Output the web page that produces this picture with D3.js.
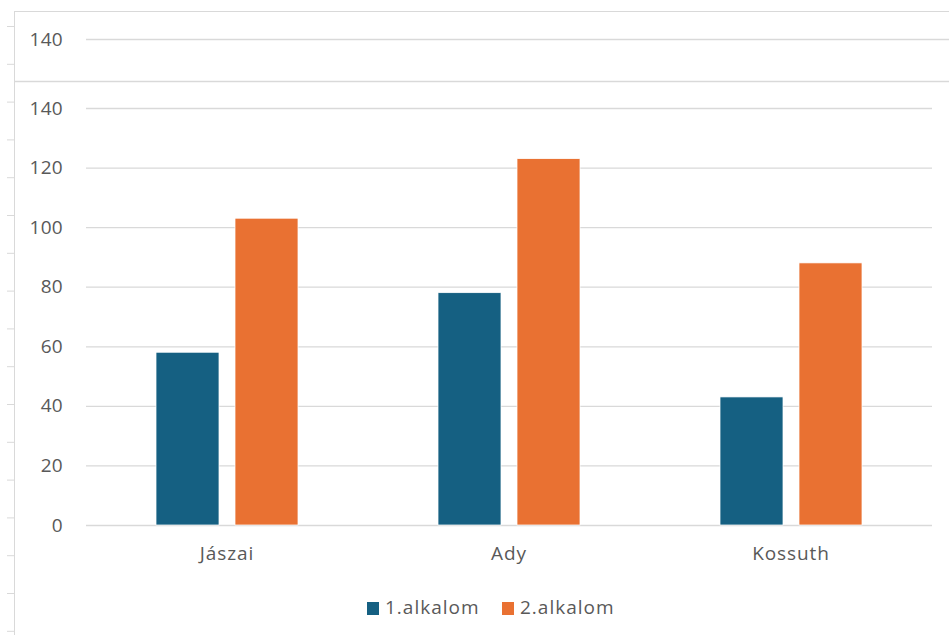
<!DOCTYPE html>
<html>
<head>
<meta charset="utf-8">
<script src="https://cdn.jsdelivr.net/npm/d3@7"></script>
<style>
  html, body { margin: 0; padding: 0; background: #fff; }
  svg { display: block; font-family: "Open Sans", "Noto Sans", sans-serif; }
</style>
</head>
<body>
<svg id="chart" width="949" height="635"></svg>
<script>
const categories = ["Jászai", "Ady", "Kossuth"];
const seriesNames = ["1.alkalom", "2.alkalom"];
const series1 = [58, 78, 43];
const series2 = [103, 123, 88];
const yTicks = [0, 20, 40, 60, 80, 100, 120, 140];
const colors = ["#156082", "#E97132"];

const W = 949, H = 635;
const svg = d3.select("#chart");
const textColor = "#595959";
const gridColor = "#d9d9d9";
const fontSize = 19;

// frame (window borders)
svg.append("line").attr("x1", 14).attr("x2", W).attr("y1", 11.5).attr("y2", 11.5)
  .attr("stroke", gridColor).attr("stroke-width", 1);
svg.append("line").attr("x1", 14.5).attr("x2", 14.5).attr("y1", 11).attr("y2", H)
  .attr("stroke", gridColor).attr("stroke-width", 1);
svg.selectAll("line.rowtick").data(d3.range(0, 17)).enter().append("line")
  .attr("class", "rowtick")
  .attr("x1", 7).attr("x2", 14)
  .attr("y1", i => 26.5 + i * 37.8).attr("y2", i => 26.5 + i * 37.8)
  .attr("stroke", gridColor).attr("stroke-width", 1);

// separator between frozen strip and chart
svg.append("line").attr("x1", 14).attr("x2", W).attr("y1", 81.5).attr("y2", 81.5)
  .attr("stroke", gridColor).attr("stroke-width", 1.5);

// scales
const left = 86, right = 932;
const y = d3.scaleLinear().domain([0, 140]).range([525, 108]);
const x0 = d3.scaleBand().domain(categories).range([left, right])
  .paddingInner(140 / 282).paddingOuter(70 / 282);
const x1 = d3.scaleBand().domain(seriesNames).range([0, x0.bandwidth()]).paddingInner(0.2025);

// frozen top strip: repeated 140 gridline
const yTop = d3.scaleLinear().domain([0, 140]).range([525 - 69, 39]);
const topStrip = svg.append("g");
topStrip.append("line").attr("x1", left).attr("x2", W)
  .attr("y1", Math.round(yTop(140)) + 0.5).attr("y2", Math.round(yTop(140)) + 0.5)
  .attr("stroke", gridColor).attr("stroke-width", 1.3);
topStrip.append("text").attr("x", 63).attr("y", yTop(140)).attr("dy", "0.35em")
  .attr("text-anchor", "end").attr("fill", textColor).attr("font-size", fontSize)
  .attr("letter-spacing", 0.3).text("140");

// gridlines
const yAxis = d3.axisLeft(y).tickValues(yTicks).tickSize(-(right - left)).tickPadding(23);
const gy = svg.append("g").attr("transform", `translate(${left},0)`).call(yAxis);
gy.select(".domain").remove();
gy.selectAll(".tick line").attr("stroke", gridColor).attr("stroke-width", 1.3);
gy.selectAll(".tick text").attr("fill", textColor).attr("font-size", fontSize)
  .attr("letter-spacing", 0.3)
  .attr("font-family", "'Open Sans', sans-serif");

// bars
const data = categories.map((c, i) => ({ cat: c, vals: [series1[i], series2[i]] }));
const groups = svg.selectAll("g.grp").data(data).enter().append("g")
  .attr("class", "grp").attr("transform", d => `translate(${x0(d.cat)},0)`);
groups.selectAll("rect").data(d => d.vals.map((v, j) => ({ s: seriesNames[j], v, j })))
  .enter().append("rect")
  .attr("x", d => x1(d.s))
  .attr("y", d => y(d.v))
  .attr("width", x1.bandwidth())
  .attr("height", d => y(0) - y(d.v))
  .attr("fill", d => colors[d.j])
  .attr("stroke", "#ffffff").attr("stroke-width", 0.75);

// category axis labels
const xAxis = d3.axisBottom(x0).tickSize(0).tickPadding(22);
const gx = svg.append("g").attr("transform", `translate(0,${y(0)})`).call(xAxis);
gx.select(".domain").remove();
gx.selectAll(".tick text").attr("fill", textColor).attr("font-size", fontSize)
  .attr("letter-spacing", 0.9)
  .attr("font-family", "'Open Sans', sans-serif");

// legend
const legendItems = [
  { name: seriesNames[0], color: colors[0], x: 367 },
  { name: seriesNames[1], color: colors[1], x: 502 }
];
const lg = svg.append("g");
const li = lg.selectAll("g").data(legendItems).enter().append("g")
  .attr("transform", d => `translate(${d.x},602)`);
li.append("rect").attr("width", 12).attr("height", 13).attr("fill", d => d.color);
li.append("text").attr("x", 18).attr("y", 12)
  .attr("fill", textColor).attr("font-size", fontSize)
  .attr("letter-spacing", 1).text(d => d.name);
</script>
</body>
</html>
